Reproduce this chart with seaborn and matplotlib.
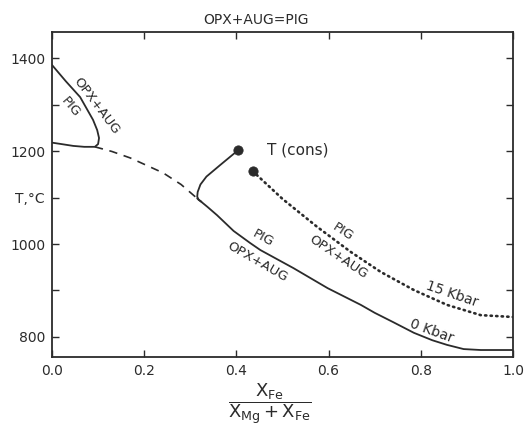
import matplotlib
matplotlib.use("Agg")
import matplotlib.pyplot as plt
import seaborn as sns

sns.set_style("ticks")
plt.rcParams["font.family"] = ["DejaVu Sans"]
plt.rcParams["mathtext.default"] = "regular"

INK = "#2b2b2b"

# ---- curves (X_Fe ratio, T in C) ----
# upper-left loop OPX+AUG / PIG
loop_x = [0.0, 0.03, 0.061, 0.089, 0.098, 0.102, 0.100, 0.093, 0.07, 0.046, 0.02, 0.0]
loop_t = [1385, 1350, 1316, 1267, 1245, 1228, 1215, 1209, 1209, 1211, 1215, 1218]

# dashed (extrapolated) part of the 0 kbar solvus
dash_x = [0.093, 0.13, 0.17, 0.241, 0.28, 0.315]
dash_t = [1209, 1199, 1185, 1153, 1128, 1098]

# 0 kbar solid curve
zero_x = [0.315, 0.337, 0.358, 0.394, 0.43, 0.452, 0.524, 0.598, 0.67, 0.70, 0.74,
          0.785, 0.825, 0.857, 0.893, 0.93, 1.0]
zero_t = [1098, 1080, 1062, 1028, 1002, 987, 948, 905, 869, 852, 832,
          809, 793, 783, 774, 772, 772]

# T (cons) branch ending in a dot
cons_x = [0.404, 0.365, 0.335, 0.322, 0.316, 0.315, 0.318, 0.324]
cons_t = [1202, 1170, 1145, 1128, 1112, 1102, 1095, 1091]

# 15 kbar dotted curve
kb15_x = [0.435, 0.50, 0.575, 0.648, 0.713, 0.785, 0.857, 0.93, 1.0]
kb15_t = [1157, 1097, 1037, 983, 940, 901, 869, 847, 843]

# end points
dot_x = [0.404, 0.435]
dot_t = [1202, 1157]

x_ticks = [0.0, 0.2, 0.4, 0.6, 0.8, 1.0]
x_labels = ["0.0", "0.2", "0.4", "0.6", "0.8", "1.0"]
y_ticks = [800, 900, 1000, 1100, 1200, 1300, 1400]
y_labels = ["800", "", "1000", "T,°C", "1200", "", "1400"]

fig = plt.figure(figsize=(5.27, 4.30), dpi=100)
ax = fig.add_axes([0.0987, 0.1698, 0.8747, 0.7558])

line_kw = dict(sort=False, estimator=None, color=INK, ax=ax, legend=False)
sns.lineplot(x=loop_x, y=loop_t, lw=1.3, **line_kw)
sns.lineplot(x=dash_x, y=dash_t, lw=1.2, linestyle=(0, (5, 4)), **line_kw)
sns.lineplot(x=zero_x, y=zero_t, lw=1.3, **line_kw)
sns.lineplot(x=cons_x, y=cons_t, lw=1.3, **line_kw)
sns.lineplot(x=kb15_x, y=kb15_t, lw=1.9, linestyle=(0, (0.5, 1.6)),
             dash_capstyle="round", **line_kw)
sns.scatterplot(x=dot_x, y=dot_t, s=45, color=INK, edgecolor=INK, ax=ax, zorder=3)

ax.set_xlim(0, 1.0)
ax.set_ylim(757, 1456)
ax.set_xticks(x_ticks)
ax.set_xticklabels(x_labels)
ax.set_yticks(y_ticks)
ax.set_yticklabels(y_labels)
ax.tick_params(direction="in", length=5, width=1, top=True, right=True,
               labelsize=10, colors=INK, pad=5)
for sp in ax.spines.values():
    sp.set_visible(True)
    sp.set_linewidth(1.3)
    sp.set_color(INK)

# labels along the curves
txt = dict(color=INK, ha="center", va="center", rotation_mode="anchor")
ax.text(0.097, 1297, "OPX+AUG", rotation=-53, fontsize=9.5, **txt)
ax.text(0.041, 1295, "PIG", rotation=-50, fontsize=9.5, **txt)
ax.text(0.457, 1013, "PIG", rotation=-29, fontsize=9.5, **txt)
ax.text(0.446, 961, "OPX+AUG", rotation=-30, fontsize=9.5, **txt)
ax.text(0.63, 1026, "PIG", rotation=-33, fontsize=9.5, **txt)
ax.text(0.62, 972, "OPX+AUG", rotation=-34, fontsize=9.5, **txt)
ax.text(0.868, 893, "15 Kbar", rotation=-19, fontsize=10, **txt)
ax.text(0.824, 813, "0 Kbar", rotation=-20, fontsize=10, **txt)
ax.text(0.467, 1202, "T (cons)", color=INK, ha="left", va="center", fontsize=11)

fig.text(256 / 527, 1 - 20 / 430, "OPX+AUG=PIG", ha="center", va="center",
         fontsize=10, color=INK)
fig.text(270 / 527, 1 - 404 / 430, r"$\dfrac{X_{Fe}}{X_{Mg}+X_{Fe}}$",
         ha="center", va="center", fontsize=13, color=INK)

fig.savefig("out.png", dpi=100, facecolor="white")
